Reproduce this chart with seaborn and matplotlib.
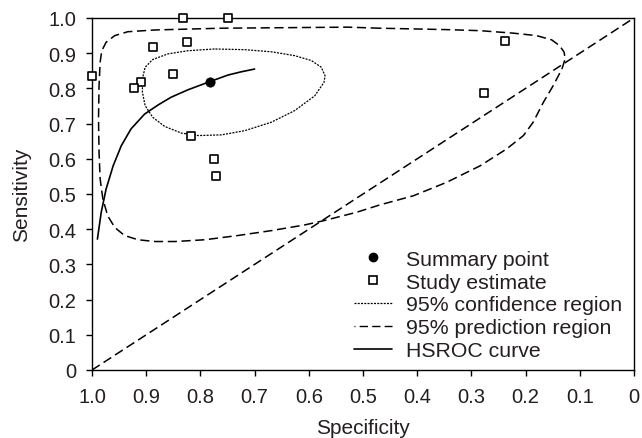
import matplotlib
matplotlib.use("Agg")
import matplotlib.pyplot as plt
import seaborn as sns
from matplotlib.lines import Line2D

# ---------------- data ----------------
study_spec = [1.0, 0.833, 0.749, 0.887, 0.824, 0.850, 0.909, 0.923, 0.818, 0.774, 0.772, 0.238, 0.277]
study_sens = [0.834, 1.0, 1.0, 0.917, 0.931, 0.840, 0.817, 0.800, 0.666, 0.599, 0.552, 0.934, 0.786]

summary_spec = [0.783]
summary_sens = [0.819]

hsroc_spec = [0.990, 0.983, 0.974, 0.961, 0.946, 0.928, 0.903, 0.878, 0.854, 0.823,
              0.783, 0.749, 0.725, 0.700]
hsroc_sens = [0.372, 0.448, 0.514, 0.580, 0.637, 0.685, 0.727, 0.753, 0.775, 0.796,
              0.819, 0.838, 0.847, 0.855]

conf_spec = [0.774, 0.823, 0.860, 0.888, 0.902, 0.907, 0.907, 0.902, 0.888, 0.866,
             0.835, 0.804, 0.761, 0.718, 0.669, 0.626, 0.589, 0.572, 0.570, 0.577,
             0.595, 0.626, 0.669, 0.718, 0.774]
conf_sens = [0.912, 0.907, 0.898, 0.882, 0.860, 0.827, 0.789, 0.751, 0.718, 0.692,
             0.673, 0.666, 0.668, 0.680, 0.704, 0.737, 0.779, 0.817, 0.836, 0.860,
             0.879, 0.893, 0.904, 0.910, 0.912]

pred_spec = [0.469, 0.528, 0.761, 0.884, 0.934, 0.958, 0.974, 0.982, 0.985, 0.987,
             0.988, 0.987, 0.985, 0.980, 0.971, 0.958, 0.940, 0.915, 0.884, 0.847,
             0.792, 0.731, 0.669, 0.608, 0.573, 0.512, 0.469, 0.407, 0.346, 0.284,
             0.235, 0.204, 0.186, 0.167, 0.149, 0.133, 0.127, 0.129, 0.137, 0.152,
             0.180, 0.223, 0.284, 0.346, 0.407, 0.469]
pred_sens = [0.971, 0.974, 0.971, 0.966, 0.961, 0.950, 0.931, 0.907, 0.874, 0.808,
             0.713, 0.619, 0.543, 0.486, 0.438, 0.405, 0.382, 0.370, 0.365, 0.365,
             0.370, 0.382, 0.396, 0.412, 0.424, 0.448, 0.469, 0.495, 0.533, 0.580,
             0.628, 0.666, 0.704, 0.761, 0.808, 0.855, 0.884, 0.903, 0.921, 0.938,
             0.950, 0.957, 0.964, 0.967, 0.969, 0.971]

diag_spec = [1.0, 0.0]
diag_sens = [0.0, 1.0]

x_ticks = [1.0, 0.9, 0.8, 0.7, 0.6, 0.5, 0.4, 0.3, 0.2, 0.1, 0.0]
x_ticklabels = ["1.0", "0.9", "0.8", "0.7", "0.6", "0.5", "0.4", "0.3", "0.2", "0.1", "0"]
y_ticks = [0.0, 0.1, 0.2, 0.3, 0.4, 0.5, 0.6, 0.7, 0.8, 0.9, 1.0]
y_ticklabels = ["0", "0.1", "0.2", "0.3", "0.4", "0.5", "0.6", "0.7", "0.8", "0.9", "1.0"]

legend_labels = ["Summary point", "Study estimate", "95% confidence region",
                 "95% prediction region", "HSROC curve"]

# ---------------- style ----------------
sns.set_style("ticks")
plt.rcParams["font.family"] = ["Liberation Sans", "DejaVu Sans"]
plt.rcParams["font.size"] = 14.5
TXT = "#231f20"

fig = plt.figure(figsize=(6.42, 4.39), dpi=100)
ax = fig.add_axes([92 / 642, 1 - 371 / 439, 542 / 642, 352 / 439])

DASH = (0, (6, 3))
DOT = (0, (1.6, 1.0))

sns.lineplot(x=diag_spec, y=diag_sens, sort=False, estimator=None, ax=ax,
             color="k", lw=1.1, linestyle=DASH)
sns.lineplot(x=pred_spec, y=pred_sens, sort=False, estimator=None, ax=ax,
             color="k", lw=1.1, linestyle=DASH)
sns.lineplot(x=conf_spec, y=conf_sens, sort=False, estimator=None, ax=ax,
             color="k", lw=0.9, linestyle=DOT)
sns.lineplot(x=hsroc_spec, y=hsroc_sens, sort=False, estimator=None, ax=ax,
             color="k", lw=1.2)
sns.scatterplot(x=study_spec, y=study_sens, ax=ax, marker="s", s=40,
                facecolor="white", edgecolor="k", linewidth=1.2, zorder=5, clip_on=False)
sns.scatterplot(x=summary_spec, y=summary_sens, ax=ax, marker="o", s=45,
                color="k", edgecolor="k", zorder=6)

ax.set_xlim(1.0, 0.0)
ax.set_ylim(0.0, 1.0)
ax.set_xticks(x_ticks)
ax.set_xticklabels(x_ticklabels)
ax.set_yticks(y_ticks)
ax.set_yticklabels(y_ticklabels)
ax.tick_params(direction="out", length=4, width=1, colors="k", labelcolor=TXT,
               labelsize=14.5)
ax.tick_params(axis="x", pad=8)
ax.tick_params(axis="y", pad=7.5)
for sp in ax.spines.values():
    sp.set_visible(True)
    sp.set_color("k")
    sp.set_linewidth(1.0)

ax.set_xlabel("Specificity", fontsize=15, color=TXT, labelpad=9)
ax.set_ylabel("Sensitivity", fontsize=15, color=TXT, labelpad=12)

handles = [
    Line2D([], [], marker="o", color="k", ls="none", markersize=6),
    Line2D([], [], marker="s", markerfacecolor="white", markeredgecolor="k",
           ls="none", markersize=6, markeredgewidth=1.2),
    Line2D([], [], color="k", lw=0.9, linestyle=DOT),
    Line2D([], [], color="k", lw=1.0, linestyle=(5.3, (6, 3))),
    Line2D([], [], color="k", lw=1.2),
]
leg = ax.legend(handles, legend_labels, loc="lower right", frameon=False,
                fontsize=15.3, handlelength=1.8, handletextpad=0.66,
                labelspacing=0.18, borderaxespad=0.0, borderpad=0.0,
                bbox_to_anchor=(1 - 12 / 542, 10 / 352))
for t in leg.get_texts():
    t.set_color(TXT)

fig.savefig("out.png", dpi=100)
